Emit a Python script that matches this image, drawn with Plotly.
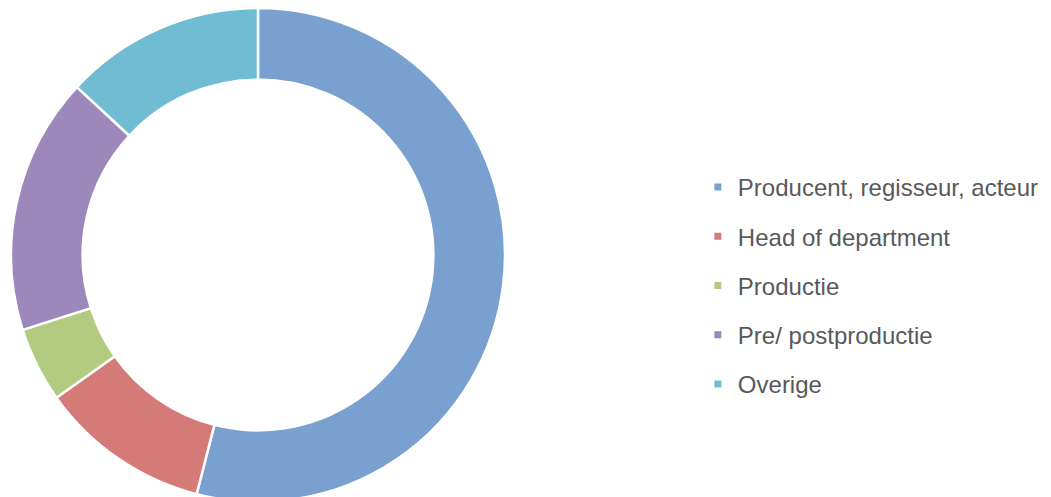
import plotly.graph_objects as go

categories = ["Producent, regisseur, acteur", "Head of department", "Productie",
              "Pre/ postproductie", "Overige"]
values = [54.0, 11.2, 4.9, 16.8, 13.1]
colors = ["#79a0cf", "#d47b77", "#b2cb80", "#9c88bb", "#70bcd2"]

fig = go.Figure()
fig.add_trace(go.Pie(
    labels=categories, values=values, sort=False, direction="clockwise", rotation=0,
    hole=0.71, textinfo="none", showlegend=False,
    marker=dict(colors=colors, line=dict(color="white", width=2.5)),
    domain=dict(x=[0.01047, 0.48049], y=[0.00594, 0.9842]),
))
for i, (cat, col) in enumerate(zip(categories, colors)):
    fig.add_trace(go.Scatter(
        x=[None], y=[None], mode="markers", name=cat, legendgroup=f"g{i}",
        marker=dict(symbol="square", size=7, color=col), showlegend=True,
    ))

fig.update_layout(
    width=1051, height=505, margin=dict(l=0, r=0, t=0, b=0),
    paper_bgcolor="white", plot_bgcolor="white",
    xaxis=dict(visible=False), yaxis=dict(visible=False),
    legend=dict(x=0.664, xanchor="left", y=0.4347, yanchor="middle",
                font=dict(family="Liberation Sans, Arial, sans-serif", size=24, color="#595959"),
                tracegroupgap=15, itemsizing="trace", traceorder="grouped"),
)
fig.write_html("out.html", config={"displayModeBar": False},
               post_script="document.body.style.margin='0';document.body.style.overflow='hidden';")
